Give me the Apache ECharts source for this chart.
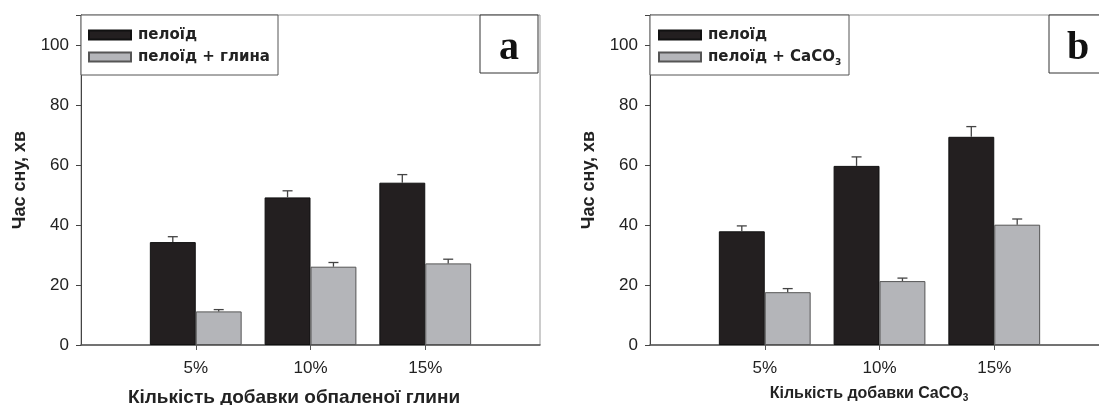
<!DOCTYPE html>
<html><head><meta charset="utf-8">
<script src="https://cdn.jsdelivr.net/npm/echarts@6/dist/echarts.min.js"></script>
<style>html,body{margin:0;padding:0;background:#fff}#c{width:1099px;height:405px}</style>
</head><body><div id="c"></div>
<script>
const categories = ['', '5%', '10%', '15%', ''];
const yTicks = [0, 20, 40, 60, 80, 100];
// panel a
const aPeloid = [34.3, 49.2, 54.1];
const aPeloidErr = [1.8, 2.2, 2.7];
const aClay = [11.2, 26.1, 27.2];
const aClayErr = [0.6, 1.4, 1.4];
// panel b
const bPeloid = [37.9, 59.7, 69.4];
const bPeloidErr = [1.8, 3.0, 3.4];
const bCaCO3 = [17.6, 21.3, 40.1];
const bCaCO3Err = [1.2, 1.0, 1.9];

const BLACK = '#231f20', GRAY = '#b4b5b9';
const pad = v => ['-'].concat(v, ['-']);
const errData = (v, e) => v.map((x, i) => [i + 1, x, e[i]]);

const chart = echarts.init(document.getElementById('c'));
const tickFont = {fontFamily: 'Liberation Sans', fontSize: 17, color: '#222'};
const titleFont = {fontFamily: 'Liberation Sans', fontSize: 19, fontWeight: 'bold', color: '#222'};

function xAxis(gi, name, nameGap, padRight, font, rich) {
  return {
    type: 'category', gridIndex: gi, data: categories, boundaryGap: false,
    axisLine: {lineStyle: {color: '#555', width: 1.5}},
    axisTick: {length: 5, interval: i => i > 0 && i < 4, lineStyle: {color: '#555'}},
    axisLabel: Object.assign({interval: 0, margin: 15}, tickFont),
    splitLine: {show: false},
    name: name, nameLocation: 'middle', nameGap: nameGap,
    nameTextStyle: Object.assign({padding: [0, padRight, 0, 0], rich: rich}, font)
  };
}
function yAxis(gi) {
  return {
    type: 'value', gridIndex: gi, min: 0, max: 110, interval: 20,
    axisLine: {show: true, lineStyle: {color: '#444', width: 1}},
    axisTick: {show: true, length: 5, lineStyle: {color: '#444'}},
    axisLabel: Object.assign({margin: 12, formatter: v => yTicks.includes(v) ? String(v) : ''}, tickFont),
    splitLine: {show: false},
    name: 'Час сну, хв', nameLocation: 'middle', nameGap: 52, nameRotate: 90,
    nameTextStyle: Object.assign({}, titleFont, {fontSize: 18})
  };
}
function errSeries(xi, data, sign) {
  return {
    type: 'custom', xAxisIndex: xi, yAxisIndex: xi, data: data, z: 5, silent: true,
    renderItem: (params, api) => {
      const bw = api.size([1, 0])[0];
      const dx = sign * bw * 0.2;
      const base = api.coord([api.value(0), api.value(1)]);
      const top = api.coord([api.value(0), api.value(1) + api.value(2)]);
      const x = base[0] + dx;
      const st = {stroke: '#444', lineWidth: 1.3};
      return {type: 'group', children: [
        {type: 'line', shape: {x1: x, y1: base[1], x2: x, y2: top[1]}, style: st},
        {type: 'line', shape: {x1: x - 5, y1: top[1], x2: x + 5, y2: top[1]}, style: st}
      ]};
    }
  };
}
function barSeries(xi, name, data, color) {
  return {
    type: 'bar', name: name, xAxisIndex: xi, yAxisIndex: xi, data: pad(data),
    barWidth: '40%', barGap: '0%',
    itemStyle: {color: color, borderColor: color === BLACK ? '#111' : '#555', borderWidth: 1}
  };
}
const bTitleFont = {fontFamily: 'Liberation Sans', fontSize: 16, fontWeight: 'bold', color: '#222'};
const subRich = {
  m: {fontFamily: 'Liberation Sans', fontSize: 16, fontWeight: 'bold', color: '#222', lineHeight: 18},
  s: {fontFamily: 'Liberation Sans', fontSize: 10, fontWeight: 'bold', color: '#222', lineHeight: 18, verticalAlign: 'bottom', padding: [6, 0, 0, 0]}
};
const legRich = {
  m: {fontFamily: 'DejaVu Sans', fontSize: 15, fontWeight: 'bold', color: '#222'},
  s: {fontFamily: 'DejaVu Sans', fontSize: 9, fontWeight: 'bold', color: '#222', padding: [12, 0, 0, 0]}
};
function legend(left, names) {
  return {
    orient: 'vertical', left: left, top: 26, padding: 0, itemWidth: 42, itemHeight: 9, itemGap: 4,
    icon: 'rect', data: names, selectedMode: false,
    textStyle: {fontFamily: 'DejaVu Sans', fontSize: 15, fontWeight: 'bold', color: '#222', lineHeight: 18, padding: [0, 0, 0, 2], rich: legRich},
    formatter: n => n === 'пелоїд + CaCO3' ? '{m|пелоїд + CaCO}{s|3}' : n
  };
}
function labelBox(x, letter) {
  return [
    {type: 'rect', shape: {x: x, y: 15, width: 58, height: 58}, style: {fill: '#fff', stroke: '#333', lineWidth: 1}, z: 10},
    {type: 'text', x: x + 29, y: 49, style: {text: letter, fontFamily: 'Liberation Serif', fontWeight: 'bold', fontSize: 40, fill: '#111', align: 'center', verticalAlign: 'middle'}, z: 11}
  ];
}
function legendBox(x, w) {
  return {type: 'rect', shape: {x: x, y: 15, width: w, height: 60}, style: {fill: '#fff', stroke: '#555', lineWidth: 1}, z: 1};
}

chart.setOption({
  animation: false,
  grid: [
    {left: 81, top: 15, width: 459, height: 330, show: true, borderColor: '#999', borderWidth: 1, outerBoundsMode: 'none'},
    {left: 650, top: 15, width: 459, height: 330, show: true, borderColor: '#999', borderWidth: 1, outerBoundsMode: 'none'}
  ],
  xAxis: [
    xAxis(0, 'Кількість добавки обпаленої глини', 43, 33, titleFont),
    xAxis(1, '{m|Кількість добавки CaCO}{s|3}', 40, 21, bTitleFont, subRich)
  ],
  yAxis: [yAxis(0), yAxis(1)],
  legend: [legend(88, ['пелоїд', 'пелоїд + глина']), legend(658, ['пелоїд', 'пелоїд + CaCO3'])],
  graphic: [legendBox(81, 197), legendBox(650, 199)].concat(labelBox(480, 'a'), labelBox(1049, 'b')),
  series: [
    barSeries(0, 'пелоїд', aPeloid, BLACK),
    barSeries(0, 'пелоїд + глина', aClay, GRAY),
    errSeries(0, errData(aPeloid, aPeloidErr), -1),
    errSeries(0, errData(aClay, aClayErr), 1),
    barSeries(1, 'пелоїд', bPeloid, BLACK),
    barSeries(1, 'пелоїд + CaCO3', bCaCO3, GRAY),
    errSeries(1, errData(bPeloid, bPeloidErr), -1),
    errSeries(1, errData(bCaCO3, bCaCO3Err), 1)
  ]
});
</script></body></html>
